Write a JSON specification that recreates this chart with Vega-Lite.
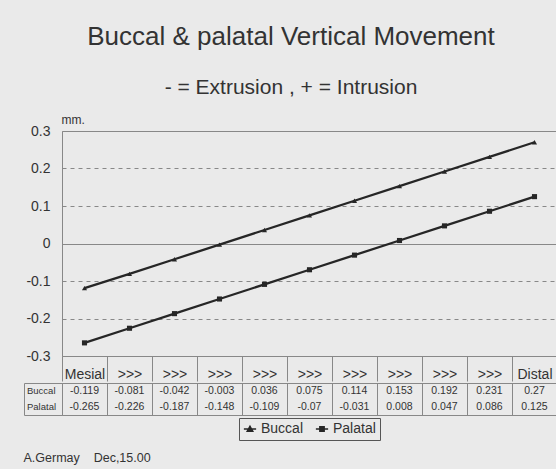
{
  "$schema": "https://vega.github.io/schema/vega-lite/v6.json",
  "background": "#eaeaea",
  "padding": {"left": 23, "top": 23, "right": 0, "bottom": 5},
  "config": {
    "font": "Liberation Sans",
    "view": {"stroke": "#888"}
  },
  "datasets": {
    "d": [
      {"pos": 0, "series": "Buccal", "value": -0.119},
      {"pos": 1, "series": "Buccal", "value": -0.081},
      {"pos": 2, "series": "Buccal", "value": -0.042},
      {"pos": 3, "series": "Buccal", "value": -0.003},
      {"pos": 4, "series": "Buccal", "value": 0.036},
      {"pos": 5, "series": "Buccal", "value": 0.075},
      {"pos": 6, "series": "Buccal", "value": 0.114},
      {"pos": 7, "series": "Buccal", "value": 0.153},
      {"pos": 8, "series": "Buccal", "value": 0.192},
      {"pos": 9, "series": "Buccal", "value": 0.231},
      {"pos": 10, "series": "Buccal", "value": 0.27},
      {"pos": 0, "series": "Palatal", "value": -0.265},
      {"pos": 1, "series": "Palatal", "value": -0.226},
      {"pos": 2, "series": "Palatal", "value": -0.187},
      {"pos": 3, "series": "Palatal", "value": -0.148},
      {"pos": 4, "series": "Palatal", "value": -0.109},
      {"pos": 5, "series": "Palatal", "value": -0.07},
      {"pos": 6, "series": "Palatal", "value": -0.031},
      {"pos": 7, "series": "Palatal", "value": 0.008},
      {"pos": 8, "series": "Palatal", "value": 0.047},
      {"pos": 9, "series": "Palatal", "value": 0.086},
      {"pos": 10, "series": "Palatal", "value": 0.125}
    ]
  },
  "title": {
    "text": "A.Germay\u00a0\u00a0\u00a0\u00a0Dec,15.00",
    "orient": "bottom",
    "anchor": "start",
    "fontSize": 12.5,
    "fontWeight": "normal",
    "color": "#333",
    "offset": 11
  },
  "spacing": 0,
  "resolve": {"scale": {"x": "independent", "y": "independent"}},
  "vconcat": [
    {
      "title": {
        "text": "Buccal & palatal Vertical Movement",
        "subtitle": "- = Extrusion , + = Intrusion",
        "fontSize": 26,
        "subtitleFontSize": 21,
        "fontWeight": "normal",
        "color": "#333",
        "subtitleColor": "#333",
        "subtitlePadding": 27,
        "anchor": "middle",
        "offset": 15
      },
      "bounds": "flush",
      "spacing": 0,
      "resolve": {"scale": {"x": "independent", "y": "independent"}},
      "hconcat": [
        {
          "width": 38,
          "height": 225,
          "data": {"values": [{}]},
          "mark": {"type": "text"},
          "encoding": {"text": {"value": ""}},
          "view": {"stroke": null}
        },
        {
          "width": 495,
          "height": 225,
          "data": {"name": "d"},
          "mark": {"type": "line", "strokeWidth": 2.3, "color": "#262626", "point": {"filled": true, "size": 26, "opacity": 1}},
          "encoding": {
            "x": {
              "field": "pos",
              "type": "ordinal",
              "bandPosition": 0.5,
              "scale": {"type": "band", "paddingInner": 0, "paddingOuter": 0},
              "axis": {
                "title": null,
                "grid": false,
                "tickBand": "extent",
                "tickSize": 25,
                "tickColor": "#888",
                "domainColor": "#888",
                "labelExpr": "!isValid(datum.value) ? '' : datum.value == 0 ? 'Mesial' : datum.value == 10 ? 'Distal' : '>>>'",
                "labelAngle": 0,
                "labelFontSize": 14,
                "labelColor": "#333",
                "labelBaseline": "top",
                "labelPadding": -14
              }
            },
            "y": {
              "field": "value",
              "type": "quantitative",
              "scale": {"domain": [-0.3, 0.3], "nice": false, "zero": false},
              "axis": {
                "values": [-0.3, -0.2, -0.1, 0, 0.1, 0.2, 0.3],
                "labelExpr": "'' + datum.value",
                "ticks": false,
                "domain": false,
                "labelPadding": 12,
                "labelFontSize": 14,
                "labelColor": "#333",
                "grid": true,
                "gridColor": "#888",
                "gridDash": {"condition": {"test": "datum.value == 0", "value": []}, "value": [4, 4]},
                "title": "mm.",
                "titleAngle": 0,
                "titleAlign": "left",
                "titleBaseline": "bottom",
                "titleX": -1,
                "titleY": -5,
                "titleFontSize": 12,
                "titleFontWeight": "normal",
                "titleColor": "#333"
              }
            },
            "color": {
              "field": "series",
              "type": "nominal",
              "scale": {"range": ["#262626", "#262626"]},
              "legend": {
                "orient": "none",
                "legendX": 215,
                "legendY": 287,
                "title": null,
                "direction": "horizontal",
                "labelFontSize": 14,
                "labelColor": "#333",
                "strokeColor": "#555",
                "padding": 4,
                "symbolSize": 150,
                "columnPadding": 8,
                "encode": {
                  "symbols": {
                    "update": {
                      "shape": {"signal": "datum.label == 'Buccal' ? 'M-1,0H1M0,-0.45L0.45,0.35H-0.45Z' : 'M-1,0H1M-0.35,-0.35H0.35V0.35H-0.35Z'"},
                      "stroke": {"value": "#262626"},
                      "strokeWidth": {"value": 1.5},
                      "fill": {"value": "#262626"}
                    }
                  }
                }
              }
            },
            "shape": {
              "field": "series",
              "type": "nominal",
              "scale": {"range": ["triangle-up", "square"]}
            }
          }
        }
      ]
    },
    {
      "bounds": "flush",
      "spacing": 0,
      "resolve": {"scale": {"x": "independent", "y": "independent"}},
      "hconcat": [
        {
          "width": 38,
          "height": 32,
          "data": {"name": "d"},
          "transform": [{"filter": "datum.pos == 0"}],
          "mark": {"type": "text", "fontSize": 9.5, "color": "#333", "align": "left", "dx": -16},
          "encoding": {
            "y": {"field": "series", "type": "nominal", "sort": ["Buccal", "Palatal"], "axis": null},
            "text": {"field": "series", "type": "nominal"}
          }
        },
        {
          "width": 495,
          "height": 32,
          "data": {"name": "d"},
          "mark": {"type": "text", "fontSize": 10.5, "color": "#333"},
          "encoding": {
            "x": {
              "field": "pos",
              "type": "ordinal",
              "scale": {"type": "band", "paddingInner": 0, "paddingOuter": 0},
              "axis": {
                "orient": "top",
                "title": null,
                "grid": true,
                "gridColor": "#888",
                "tickBand": "extent",
                "labels": false,
                "ticks": false,
                "domain": false
              }
            },
            "y": {"field": "series", "type": "nominal", "sort": ["Buccal", "Palatal"], "axis": null},
            "text": {"field": "value", "type": "nominal"}
          }
        }
      ]
    }
  ]
}
